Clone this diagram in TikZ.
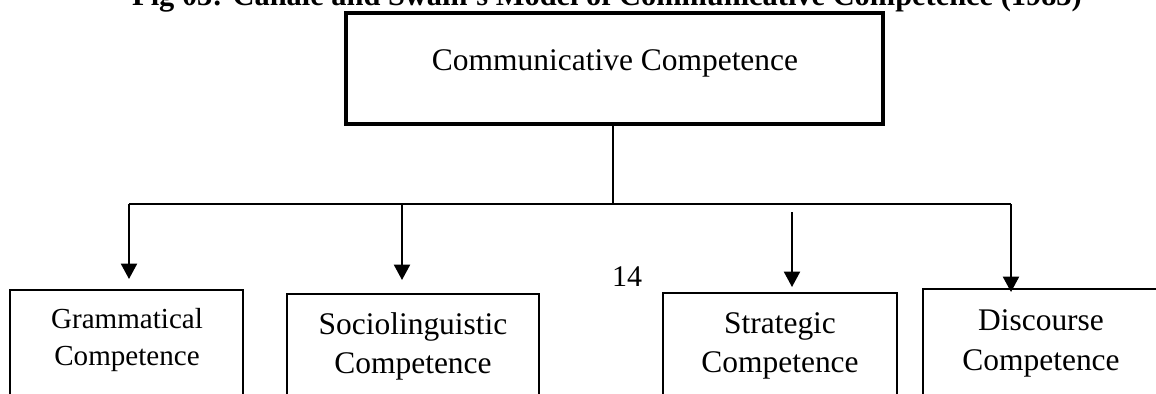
\documentclass[tikz,border=0pt]{standalone}
\usepackage{fontspec}
\setmainfont{Liberation Serif}
\usetikzlibrary{arrows.meta,fit}
\begin{document}
\begin{tikzpicture}[x=0.75pt,y=-0.75pt,
  boxed/.style={draw, line width=2pt, inner sep=0pt, outer sep=0pt},
  topboxed/.style={draw, line width=2.5pt, inner sep=0pt, outer sep=0pt},
  lbl/.style={anchor=base, inner sep=0pt, font=\fontsize{23.6}{29.25}\selectfont},
  smalllbl/.style={lbl, font=\fontsize{21.8}{27.75}\selectfont},
  conn/.style={line width=1.1pt},
  arr/.style={line width=1.5pt, -{Triangle[width=12pt,length=11.5pt]}}]
\clip (0,0) rectangle (1156,393);
% title (only its lower part is visible)
\node[lbl, font=\fontsize{22.8}{28}\selectfont\bfseries] (title) at (607,5)
  {Fig 03: Canale and Swain's Model of Communicative Competence (1983)};
% boxes
\node[topboxed, fit={(346,13) (883,124)}] (top) {};
\node[boxed, fit={(10,290) (243,420)}] (g) {};
\node[boxed, fit={(287,294) (539,420)}] (s) {};
\node[boxed, fit={(663,293) (897,420)}] (t) {};
\node[boxed, fit={(923,289) (1159,420)}] (d) {};
% labels
\node[lbl] (topt) at (615,70) {Communicative Competence};
\node[smalllbl] (gt) at (127,328) {\begin{tabular}[t]{@{}c@{}}Grammatical\\Competence\end{tabular}};
\node[lbl] (st) at (413,334) {\begin{tabular}[t]{@{}c@{}}Sociolinguistic\\Competence\end{tabular}};
\node[lbl] (tt) at (780,333) {\begin{tabular}[t]{@{}c@{}}Strategic\\Competence\end{tabular}};
\node[lbl, font=\fontsize{23.6}{30}\selectfont] (dt) at (1041,330) {\begin{tabular}[t]{@{}c@{}}Discourse\\Competence\end{tabular}};
\node[lbl, font=\fontsize{22.5}{27}\selectfont] (pg) at (627,286) {14};
% connectors
\coordinate (j) at (613,204);
\coordinate (c1) at (129,204);
\coordinate (c2) at (402,204);
\coordinate (c3) at (792,212);
\coordinate (c4) at (1011,204);
\draw[conn] (j |- top.south) -- (j);
\draw[conn] (c1) -- (c4);
\draw[arr, shorten >=8.25pt] (c1) -- (c1 |- g.north);
\draw[arr, shorten >=10.5pt] (c2) -- (c2 |- s.north);
\draw[arr, shorten >=4.5pt] (c3) -- (c3 |- t.north);
\draw[arr, shorten >=-2.25pt] (c4) -- (c4 |- d.north);
\end{tikzpicture}
\end{document}
